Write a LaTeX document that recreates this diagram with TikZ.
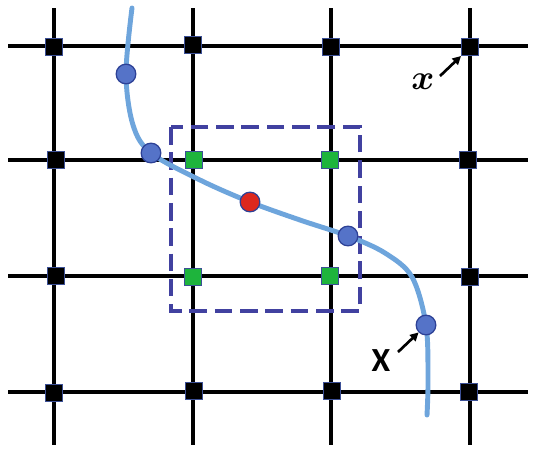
\documentclass[tikz,border=0pt]{standalone}
\usepackage{amsmath}
\usepackage{fontspec}
\setsansfont{Carlito}
\usetikzlibrary{arrows.meta}
\definecolor{knotblue}{RGB}{60,80,150}
\definecolor{knotgreen}{RGB}{30,180,60}
\definecolor{dotblue}{RGB}{85,115,200}
\definecolor{ringblue}{RGB}{45,65,150}
\definecolor{dotred}{RGB}{220,40,30}
\definecolor{pathblue}{RGB}{110,165,220}
\definecolor{winblue}{RGB}{65,65,160}
\tikzset{
  gridline/.style={line width=2.5pt, black},
  knot/.style={rectangle, draw=knotblue, fill=black, line width=0.8pt, minimum size=12pt, inner sep=0pt},
  nearknot/.style={knot, fill=knotgreen},
  sample/.style={circle, draw=ringblue, fill=dotblue, line width=0.9pt, minimum size=14pt, inner sep=0pt},
  target/.style={sample, fill=dotred},
  window/.style={draw=winblue, line width=2.8pt, dash pattern=on 12.5pt off 5.5pt},
  pointer/.style={-{Triangle[length=6pt,width=6pt]}, line width=1.9pt}
}

\begin{document}
\begin{tikzpicture}[x=0.025cm, y=-0.025cm]
\useasboundingbox (0,0) rectangle (536,449);
% grid lines
\foreach \gx in {54,193,331,470}
  \draw[gridline] (\gx,8) -- (\gx,445);
\foreach \gy in {46,160,276,392}
  \draw[gridline] (8,\gy) -- (528,\gy);
% window round the red sample
\draw[window] (171,127) rectangle (360,311);
% the curve
\draw[pathblue, line width=3.5pt, line cap=round] plot[smooth, tension=0.55] coordinates
  {(132,8) (126,74) (133,125) (151,153) (200,180) (250,202) (300,220) (348,236) (385,253) (412,277) (426,325) (428,380) (427,415)};
% knots
\node[knot] (k11) at (54,47) {};
\node[knot] (k12) at (193,45) {};
\node[knot] (k13) at (331,47) {};
\node[knot] (k14) at (470,47) {};
\node[knot] (k21) at (56,160) {};
\node[nearknot] (k22) at (194,160) {};
\node[nearknot] (k23) at (330,160) {};
\node[knot] (k24) at (468,160) {};
\node[knot] (k31) at (56,276) {};
\node[nearknot] (k32) at (193,277) {};
\node[nearknot] (k33) at (330,276) {};
\node[knot] (k34) at (470,277) {};
\node[knot] (k41) at (54,393) {};
\node[knot] (k42) at (194,391) {};
\node[knot] (k43) at (332,391) {};
\node[knot] (k44) at (469,392) {};
% samples on the curve
\node[sample] (s1) at (126,74) {};
\node[sample] (s2) at (151,153) {};
\node[target] (s3) at (250,202) {};
\node[sample] (s4) at (348,236) {};
\node[sample] (s5) at (426,325) {};
% labels
\node (xlab) at (423,82) {\fontsize{26}{26}\selectfont$\boldsymbol{x}$};
\coordinate (xtail) at (440,76);
\draw[pointer] (xtail) -- (k14.south west);
\node (Xlab) at (381,361) {\fontsize{24}{24}\selectfont\sffamily\bfseries X};
\coordinate (Xtail) at (398,352);
\draw[pointer] (Xtail) -- (s5.south west);
\end{tikzpicture}
\end{document}
